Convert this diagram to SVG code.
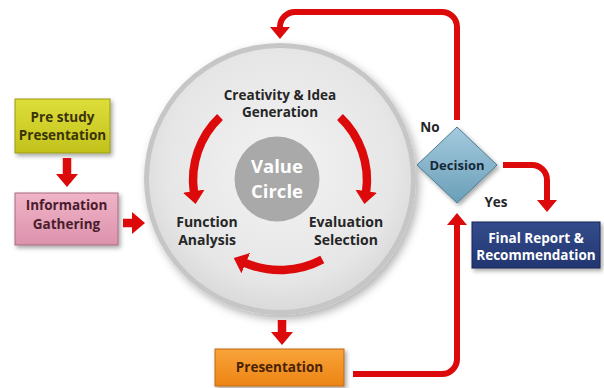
<svg xmlns="http://www.w3.org/2000/svg" width="604" height="388" viewBox="0 0 604 388">
<style>
text{font-family:"Open Sans","Noto Sans","DejaVu Sans",sans-serif;font-weight:bold;text-anchor:middle}
.lbl{font-size:13.5px;fill:#262626}
.big{font-size:14px;fill:#262626}
.red{fill:none;stroke:#dc0a0a;stroke-linecap:butt;stroke-linejoin:round}
.thick{stroke-width:8.5}
.thin{stroke-width:6}
</style>
<defs>
<filter id="sh" x="-20%" y="-20%" width="150%" height="150%">
<feDropShadow dx="2" dy="2.5" stdDeviation="2" flood-color="#000" flood-opacity="0.35"/>
</filter>
<filter id="shc" x="-20%" y="-20%" width="150%" height="150%">
<feDropShadow dx="3" dy="4" stdDeviation="4" flood-color="#000" flood-opacity="0.3"/>
</filter>
<radialGradient id="gc" cx="50%" cy="45%" r="55%">
<stop offset="0" stop-color="#f3f3f3"/>
<stop offset="0.8" stop-color="#e6e6e6"/>
<stop offset="1" stop-color="#dadada"/>
</radialGradient>
<linearGradient id="gy" x1="0" y1="0" x2="0" y2="1">
<stop offset="0" stop-color="#dede3a"/>
<stop offset="1" stop-color="#c2c21c"/>
</linearGradient>
<linearGradient id="gp" x1="0" y1="0" x2="0" y2="1">
<stop offset="0" stop-color="#f0b4c8"/>
<stop offset="1" stop-color="#dc92ac"/>
</linearGradient>
<linearGradient id="go" x1="0" y1="0" x2="0" y2="1">
<stop offset="0" stop-color="#f9a43a"/>
<stop offset="1" stop-color="#ec8414"/>
</linearGradient>
<linearGradient id="gn" x1="0" y1="0" x2="0" y2="1">
<stop offset="0" stop-color="#344c8c"/>
<stop offset="1" stop-color="#223670"/>
</linearGradient>
<linearGradient id="gd" x1="0" y1="0" x2="0" y2="1">
<stop offset="0" stop-color="#a4cade"/>
<stop offset="1" stop-color="#6a9fb8"/>
</linearGradient>
<marker id="ahb" viewBox="0 0 13 22" refX="1" refY="11" markerWidth="13" markerHeight="22" markerUnits="userSpaceOnUse" orient="auto">
<path d="M0,0 L13,11 L0,22 z" fill="#dc0a0a"/>
</marker>
<marker id="ahs" viewBox="0 0 12 20" refX="1" refY="10" markerWidth="12" markerHeight="20" markerUnits="userSpaceOnUse" orient="auto">
<path d="M0,0 L12,10 L0,20 z" fill="#dc0a0a"/>
</marker>
</defs>
<rect width="604" height="388" fill="#ffffff"/>

<g id="value-circle">
<circle cx="280" cy="179" r="136" fill="#c6c6c6" filter="url(#shc)"/>
<circle cx="280" cy="179" r="131" fill="url(#gc)"/>
<circle cx="277" cy="179" r="42.5" fill="#a9a9a9"/>
<text x="277" y="173" style="font-size:18.5px;fill:#ffffff">Value</text>
<text x="277" y="198" style="font-size:18.5px;fill:#ffffff">Circle</text>
</g>

<g id="creativity">
<text class="lbl" x="280" y="100">Creativity &amp; Idea</text>
<text class="lbl" x="280" y="117">Generation</text>
</g>
<g id="function-analysis">
<text class="big" x="207" y="227">Function</text>
<text class="big" x="207" y="245">Analysis</text>
</g>
<g id="evaluation">
<text class="big" x="346" y="227">Evaluation</text>
<text class="big" x="346" y="245">Selection</text>
</g>

<g id="pre-study">
<rect x="15" y="99" width="95" height="54" fill="url(#gy)" stroke="#9a9a18" stroke-width="1" filter="url(#sh)"/>
<text x="62.5" y="122" style="font-size:13.5px;fill:#3a3208">Pre study</text>
<text x="62.5" y="140" style="font-size:13.5px;fill:#3a3208">Presentation</text>
</g>

<g id="information-gathering">
<rect x="15" y="193" width="103" height="52" fill="url(#gp)" stroke="#a86a80" stroke-width="1" filter="url(#sh)"/>
<text x="66.5" y="210" style="font-size:13.5px;fill:#4a1c2c">Information</text>
<text x="66.5" y="229" style="font-size:13.5px;fill:#4a1c2c">Gathering</text>
</g>

<g id="presentation">
<rect x="215" y="349" width="129" height="37" fill="url(#go)" stroke="#c06812" stroke-width="1" filter="url(#sh)"/>
<text x="279.5" y="372" style="font-size:13.5px;fill:#4a2204">Presentation</text>
</g>

<g id="decision">
<polygon points="457,127 497,165 457,203 417,165" fill="url(#gd)" stroke="#4a7c94" stroke-width="1" filter="url(#sh)"/>
<text x="457" y="170" style="font-size:13px;fill:#162838">Decision</text>
</g>

<g id="final-report">
<rect x="472" y="222" width="128" height="46" fill="url(#gn)" stroke="#162456" stroke-width="1" filter="url(#sh)"/>
<text x="536" y="243" style="font-size:13.5px;fill:#ffffff">Final Report &amp;</text>
<text x="536" y="260" style="font-size:13.5px;fill:#ffffff">Recommendation</text>
</g>

<g id="connectors">
<path class="red thick" d="M67 158 L67 175" marker-end="url(#ahb)"/>
<path class="red thick" d="M123 223 L133 223" marker-end="url(#ahb)"/>
<path class="red thick" d="M282 320 L282 333" marker-end="url(#ahb)"/>
<path class="red thick" d="M220 117 A87 87 0 0 0 193.9 192.1" marker-end="url(#ahb)"/>
<path class="red thick" d="M340 117 A87 87 0 0 1 366.1 192.1" marker-end="url(#ahb)"/>
<path class="red thick" d="M322.3 259.5 A90 90 0 0 1 244.8 262.8" marker-end="url(#ahb)"/>
<path class="red thin" d="M457 120 L457 27 A15 15 0 0 0 442 12 L295 12 A15 15 0 0 0 280 27 L280 28" marker-end="url(#ahs)"/>
<path class="red thin" d="M503 165 L532 165 A15 15 0 0 1 547 180 L547 201" marker-end="url(#ahs)"/>
<path class="red thin" d="M353 374 L442 374 A15 15 0 0 0 457 359 L457 224" marker-end="url(#ahs)"/>
</g>

<g id="labels">
<text class="lbl" x="430" y="132">No</text>
<text class="lbl" x="496" y="207">Yes</text>
</g>
</svg>
